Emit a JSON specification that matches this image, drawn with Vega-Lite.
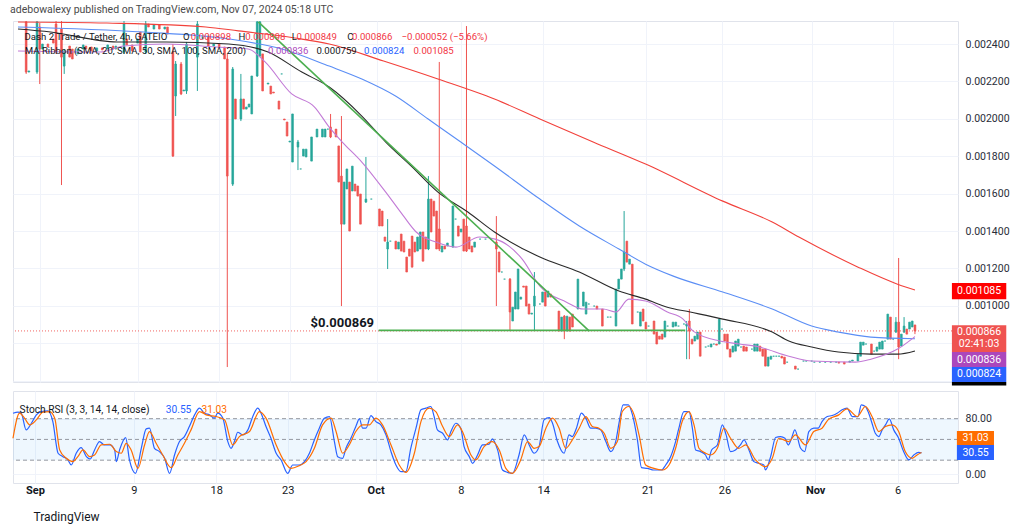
{
"$schema": "https://vega.github.io/schema/vega-lite/v6.json",
"background": "white",
"padding": {"left": 10, "top": 5, "right": 5, "bottom": 5},
"title": {"text": "adebowalexy published on TradingView.com, Nov 07, 2024 05:18 UTC", "anchor": "start", "font": "Roboto", "fontSize": 10.5, "fontWeight": "normal", "color": "#4a4a4a", "offset": 5},
"spacing": 3,
"resolve": {"scale": {"color": "independent"}},
"datasets": {
"candles": [
{"bar":3,"o":0.002518,"c":0.00225,"h":0.002523,"l":0.00224},
{"bar":4,"o":0.00225,"c":0.002256},
{"bar":7,"o":0.00225,"c":0.002518,"h":0.002523,"l":0.00224},
{"bar":8,"o":0.002491,"c":0.002373,"h":0.002512,"l":0.002186},
{"bar":9,"o":0.002373,"c":0.0024},
{"bar":11,"o":0.0024,"c":0.002384},
{"bar":13,"o":0.002427,"c":0.002405},
{"bar":14,"o":0.002507,"c":0.002363,"h":0.002523,"l":0.002347},
{"bar":16,"o":0.00248,"c":0.00233,"h":0.002523,"l":0.001646},
{"bar":17,"o":0.002282,"c":0.002363,"h":0.002373,"l":0.00224},
{"bar":19,"o":0.002389,"c":0.00233},
{"bar":20,"o":0.002373,"c":0.00232},
{"bar":22,"o":0.002347,"c":0.002373},
{"bar":24,"o":0.002373,"c":0.002395},
{"bar":25,"o":0.002389,"c":0.002373},
{"bar":27,"o":0.002384,"c":0.002363},
{"bar":29,"o":0.002363,"c":0.002379},
{"bar":31,"o":0.002379,"c":0.002368},
{"bar":33,"o":0.002373,"c":0.002395},
{"bar":35,"o":0.002389,"c":0.002373},
{"bar":36,"o":0.002373,"c":0.002389},
{"bar":39,"o":0.002357,"c":0.002507,"h":0.002523,"l":0.002347},
{"bar":40,"o":0.002427,"c":0.002395},
{"bar":42,"o":0.002395,"c":0.002363},
{"bar":44,"o":0.002405,"c":0.002427},
{"bar":45,"o":0.002464,"c":0.002357},
{"bar":47,"o":0.002357,"c":0.002507,"h":0.002523,"l":0.002347},
{"bar":48,"o":0.002507,"c":0.002491},
{"bar":50,"o":0.00248,"c":0.002502},
{"bar":52,"o":0.002502,"c":0.00248},
{"bar":54,"o":0.00248,"c":0.002491},
{"bar":55,"o":0.002491,"c":0.002453},
{"bar":57,"o":0.002357,"c":0.001801,"h":0.0024,"l":0.001796},
{"bar":58,"o":0.002122,"c":0.002293,"h":0.002309,"l":0.002015},
{"bar":60,"o":0.002293,"c":0.002133,"h":0.002304,"l":0.002127},
{"bar":61,"o":0.002149,"c":0.002154},
{"bar":62,"o":0.002149,"c":0.0024,"h":0.002411,"l":0.002133},
{"bar":64,"o":0.002373,"c":0.002373},
{"bar":66,"o":0.00233,"c":0.002507,"h":0.002523,"l":0.002149},
{"bar":68,"o":0.002427,"c":0.002437},
{"bar":70,"o":0.002443,"c":0.002389},
{"bar":72,"o":0.002389,"c":0.0024},
{"bar":74,"o":0.0024,"c":0.002384},
{"bar":76,"o":0.002384,"c":0.00232},
{"bar":77,"o":0.00232,"c":0.001694,"h":0.002347,"l":0.000673},
{"bar":79,"o":0.001651,"c":0.002266,"h":0.002277,"l":0.001641},
{"bar":80,"o":0.002106,"c":0.001999},
{"bar":82,"o":0.001999,"c":0.002106,"h":0.00224,"l":0.001988},
{"bar":83,"o":0.002106,"c":0.002052},
{"bar":84,"o":0.002052,"c":0.002063},
{"bar":85,"o":0.002063,"c":0.002079},
{"bar":86,"o":0.002026,"c":0.002229},
{"bar":88,"o":0.002229,"c":0.002518,"h":0.002523,"l":0.002224},
{"bar":89,"o":0.002336,"c":0.002518,"h":0.002523,"l":0.00233},
{"bar":90,"o":0.002347,"c":0.002149},
{"bar":92,"o":0.002186,"c":0.002191},
{"bar":93,"o":0.002175,"c":0.002133},
{"bar":94,"o":0.002143,"c":0.002138},
{"bar":96,"o":0.002095,"c":0.002052},
{"bar":97,"o":0.00224,"c":0.00224},
{"bar":98,"o":0.001999,"c":0.001994},
{"bar":99,"o":0.001983,"c":0.001908},
{"bar":100,"o":0.001876,"c":0.001881},
{"bar":101,"o":0.001769,"c":0.002026},
{"bar":103,"o":0.001849,"c":0.001876,"h":0.001887,"l":0.001726},
{"bar":104,"o":0.001732,"c":0.001732},
{"bar":105,"o":0.001801,"c":0.001838},
{"bar":106,"o":0.001796,"c":0.001838},
{"bar":108,"o":0.001774,"c":0.001903},
{"bar":110,"o":0.001903,"c":0.001945},
{"bar":112,"o":0.001903,"c":0.001945},
{"bar":113,"o":0.001903,"c":0.001945},
{"bar":114,"o":0.001945,"c":0.001945},
{"bar":115,"o":0.001956,"c":0.001903,"h":0.002026,"l":0.001897},
{"bar":117,"o":0.001945,"c":0.001903},
{"bar":118,"o":0.001855,"c":0.001662},
{"bar":119,"o":0.001694,"c":0.001437,"h":0.002015,"l":0.000999},
{"bar":120,"o":0.001437,"c":0.001662},
{"bar":121,"o":0.001625,"c":0.001732},
{"bar":122,"o":0.001662,"c":0.0014},
{"bar":123,"o":0.001614,"c":0.001747},
{"bar":124,"o":0.001651,"c":0.001614},
{"bar":125,"o":0.001641,"c":0.001587},
{"bar":126,"o":0.001598,"c":0.001437},
{"bar":128,"o":0.001555,"c":0.001571,"h":0.001796,"l":0.00155},
{"bar":130,"o":0.001571,"c":0.001571},
{"bar":133,"o":0.001518,"c":0.001427},
{"bar":134,"o":0.001507,"c":0.001427},
{"bar":135,"o":0.001368,"c":0.001346},
{"bar":136,"o":0.001304,"c":0.001341,"h":0.001464,"l":0.001197},
{"bar":137,"o":0.001346,"c":0.001346},
{"bar":139,"o":0.001346,"c":0.001304},
{"bar":140,"o":0.001304,"c":0.001341},
{"bar":141,"o":0.001384,"c":0.001293},
{"bar":142,"o":0.001346,"c":0.001288},
{"bar":143,"o":0.001261,"c":0.001181},
{"bar":144,"o":0.001304,"c":0.001266},
{"bar":145,"o":0.001373,"c":0.001207},
{"bar":146,"o":0.001341,"c":0.001288},
{"bar":147,"o":0.001293,"c":0.001368},
{"bar":148,"o":0.001304,"c":0.001395},
{"bar":149,"o":0.001395,"c":0.001239},
{"bar":150,"o":0.001368,"c":0.001304},
{"bar":151,"o":0.001304,"c":0.001571,"h":0.001694,"l":0.001298},
{"bar":152,"o":0.001571,"c":0.001395},
{"bar":153,"o":0.00156,"c":0.00148},
{"bar":154,"o":0.001507,"c":0.001304},
{"bar":155,"o":0.001411,"c":0.001304,"h":0.002304,"l":0.001293},
{"bar":156,"o":0.001288,"c":0.00132},
{"bar":157,"o":0.00132,"c":0.001304},
{"bar":158,"o":0.00132,"c":0.001336},
{"bar":160,"o":0.001314,"c":0.001534},
{"bar":161,"o":0.001464,"c":0.001464},
{"bar":162,"o":0.001427,"c":0.001373},
{"bar":163,"o":0.001395,"c":0.001411},
{"bar":164,"o":0.001464,"c":0.001293},
{"bar":165,"o":0.001427,"c":0.001293,"h":0.002496,"l":0.001288},
{"bar":166,"o":0.001368,"c":0.001304},
{"bar":167,"o":0.00132,"c":0.001288},
{"bar":168,"o":0.001314,"c":0.001341},
{"bar":170,"o":0.001357,"c":0.001357},
{"bar":172,"o":0.001357,"c":0.001357},
{"bar":174,"o":0.001357,"c":0.001357},
{"bar":176,"o":0.001341,"c":0.001304,"h":0.00148,"l":0.000999},
{"bar":177,"o":0.001288,"c":0.001181},
{"bar":178,"o":0.001181,"c":0.001181},
{"bar":179,"o":0.001143,"c":0.001143},
{"bar":181,"o":0.001143,"c":0.000967,"h":0.001149,"l":0.000865},
{"bar":182,"o":0.000919,"c":0.000993},
{"bar":183,"o":0.000983,"c":0.001074},
{"bar":184,"o":0.000983,"c":0.001197},
{"bar":185,"o":0.001036,"c":0.001047},
{"bar":186,"o":0.001106,"c":0.0011},
{"bar":187,"o":0.001106,"c":0.000999},
{"bar":188,"o":0.00101,"c":0.000956},
{"bar":189,"o":0.000956,"c":0.000961},
{"bar":190,"o":0.000999,"c":0.001052,"h":0.001181,"l":0.000865},
{"bar":192,"o":0.00101,"c":0.00101},
{"bar":193,"o":0.00102,"c":0.001074},
{"bar":194,"o":0.001074,"c":0.000999},
{"bar":195,"o":0.001047,"c":0.001079},
{"bar":196,"o":0.001063,"c":0.001047},
{"bar":199,"o":0.000972,"c":0.000865},
{"bar":200,"o":0.000865,"c":0.00094},
{"bar":201,"o":0.000945,"c":0.000865,"h":0.000951,"l":0.000822},
{"bar":202,"o":0.000865,"c":0.000945},
{"bar":203,"o":0.00094,"c":0.000865},
{"bar":204,"o":0.000956,"c":0.000887},
{"bar":206,"o":0.000983,"c":0.001143},
{"bar":208,"o":0.000999,"c":0.001074},
{"bar":209,"o":0.000956,"c":0.00102},
{"bar":210,"o":0.00101,"c":0.00101},
{"bar":212,"o":0.000999,"c":0.000999},
{"bar":213,"o":0.000999,"c":0.000983},
{"bar":215,"o":0.000983,"c":0.000892},
{"bar":217,"o":0.00094,"c":0.00094},
{"bar":218,"o":0.00094,"c":0.00094},
{"bar":220,"o":0.000892,"c":0.00109},
{"bar":221,"o":0.00109,"c":0.001143},
{"bar":222,"o":0.001143,"c":0.001197},
{"bar":223,"o":0.001197,"c":0.001288,"h":0.001507,"l":0.001186},
{"bar":224,"o":0.001346,"c":0.001234},
{"bar":225,"o":0.001223,"c":0.00125},
{"bar":226,"o":0.001223,"c":0.000903},
{"bar":228,"o":0.000967,"c":0.000967},
{"bar":229,"o":0.000892,"c":0.000967},
{"bar":230,"o":0.000983,"c":0.000919},
{"bar":231,"o":0.000913,"c":0.000876},
{"bar":232,"o":0.000892,"c":0.000892},
{"bar":234,"o":0.000919,"c":0.000849},
{"bar":235,"o":0.00086,"c":0.000796},
{"bar":236,"o":0.000838,"c":0.000822},
{"bar":237,"o":0.000849,"c":0.000822},
{"bar":238,"o":0.000833,"c":0.000919},
{"bar":239,"o":0.000892,"c":0.000892},
{"bar":241,"o":0.000887,"c":0.000913},
{"bar":242,"o":0.000892,"c":0.000913},
{"bar":243,"o":0.000892,"c":0.000892},
{"bar":245,"o":0.000903,"c":0.000903},
{"bar":246,"o":0.000892,"c":0.000903,"h":0.000919,"l":0.000715},
{"bar":247,"o":0.000919,"c":0.000865,"h":0.000983,"l":0.000715},
{"bar":248,"o":0.000822,"c":0.000796},
{"bar":249,"o":0.000812,"c":0.000838},
{"bar":250,"o":0.000822,"c":0.00086},
{"bar":251,"o":0.00086,"c":0.000731},
{"bar":253,"o":0.00078,"c":0.00078},
{"bar":254,"o":0.000785,"c":0.000785},
{"bar":255,"o":0.00078,"c":0.000796},
{"bar":256,"o":0.000796,"c":0.000796},
{"bar":257,"o":0.000796,"c":0.00079},
{"bar":258,"o":0.000796,"c":0.000929},
{"bar":259,"o":0.000876,"c":0.000876},
{"bar":260,"o":0.000849,"c":0.000812},
{"bar":261,"o":0.000849,"c":0.000769},
{"bar":262,"o":0.000769,"c":0.000726},
{"bar":263,"o":0.000753,"c":0.000785},
{"bar":264,"o":0.000758,"c":0.000812},
{"bar":265,"o":0.000785,"c":0.000822},
{"bar":266,"o":0.00078,"c":0.00078},
{"bar":267,"o":0.000785,"c":0.000758},
{"bar":268,"o":0.00078,"c":0.000758},
{"bar":270,"o":0.000769,"c":0.000769},
{"bar":271,"o":0.000758,"c":0.000796},
{"bar":272,"o":0.000758,"c":0.000796},
{"bar":273,"o":0.000785,"c":0.000758},
{"bar":274,"o":0.000769,"c":0.000731},
{"bar":275,"o":0.000769,"c":0.000678},
{"bar":276,"o":0.000678,"c":0.000726},
{"bar":277,"o":0.000715,"c":0.000731},
{"bar":278,"o":0.000731,"c":0.000731},
{"bar":279,"o":0.000731,"c":0.000731},
{"bar":280,"o":0.000731,"c":0.000731},
{"bar":281,"o":0.000731,"c":0.000721},
{"bar":282,"o":0.000726,"c":0.000689},
{"bar":283,"o":0.000699,"c":0.000699},
{"bar":286,"o":0.000678,"c":0.000662},
{"bar":287,"o":0.000662,"c":0.000662},
{"bar":289,"o":0.000705,"c":0.000705},
{"bar":290,"o":0.000705,"c":0.000705},
{"bar":292,"o":0.000705,"c":0.000705},
{"bar":293,"o":0.000699,"c":0.000699},
{"bar":295,"o":0.000699,"c":0.000699},
{"bar":297,"o":0.000699,"c":0.000699},
{"bar":299,"o":0.000699,"c":0.000699},
{"bar":301,"o":0.000699,"c":0.000699},
{"bar":302,"o":0.000699,"c":0.000694},
{"bar":304,"o":0.000699,"c":0.000689},
{"bar":306,"o":0.000699,"c":0.000705},
{"bar":307,"o":0.000705,"c":0.00071},
{"bar":309,"o":0.000705,"c":0.000742},
{"bar":310,"o":0.000731,"c":0.000806},
{"bar":311,"o":0.00079,"c":0.000806},
{"bar":312,"o":0.000796,"c":0.000796},
{"bar":314,"o":0.000796,"c":0.000742},
{"bar":315,"o":0.000758,"c":0.000758},
{"bar":316,"o":0.000758,"c":0.00078},
{"bar":317,"o":0.000769,"c":0.000806},
{"bar":318,"o":0.000769,"c":0.000812},
{"bar":319,"o":0.000812,"c":0.000812},
{"bar":320,"o":0.000822,"c":0.000956},
{"bar":321,"o":0.00094,"c":0.000822},
{"bar":322,"o":0.000822,"c":0.000822},
{"bar":323,"o":0.00086,"c":0.000913,"h":0.00094,"l":0.000855},
{"bar":324,"o":0.000913,"c":0.00078,"h":0.001256,"l":0.000715},
{"bar":325,"o":0.000785,"c":0.000849},
{"bar":326,"o":0.00086,"c":0.000892,"h":0.00094,"l":0.000855},
{"bar":327,"o":0.000876,"c":0.000849},
{"bar":328,"o":0.000876,"c":0.000913},
{"bar":329,"o":0.000887,"c":0.000919},
{"bar":330,"o":0.000898,"c":0.000866,"h":0.000898,"l":0.000849}
],
"ma": [
{"s":"s200","bar":0,"p":0.002518},{"s":"s200","bar":32.7,"p":0.002512},{"s":"s200","bar":69.1,"p":0.002491},{"s":"s200","bar":81.1,"p":0.00247},{"s":"s200","bar":101.8,"p":0.002432},{"s":"s200","bar":114.5,"p":0.0024},{"s":"s200","bar":134.5,"p":0.002309},{"s":"s200","bar":154.5,"p":0.002213},{"s":"s200","bar":175.3,"p":0.002106},{"s":"s200","bar":192,"p":0.001999},{"s":"s200","bar":211.6,"p":0.001876},{"s":"s200","bar":230.9,"p":0.001758},{"s":"s200","bar":259.3,"p":0.00156},{"s":"s200","bar":277.5,"p":0.001448},{"s":"s200","bar":287.3,"p":0.001368},{"s":"s200","bar":309.1,"p":0.001207},{"s":"s200","bar":323.6,"p":0.001116},{"s":"s200","bar":330,"p":0.001085},
{"s":"s100","bar":0,"p":0.002491},{"s":"s100","bar":46.2,"p":0.002464},{"s":"s100","bar":77.5,"p":0.002427},{"s":"s100","bar":97.1,"p":0.002373},{"s":"s100","bar":114.5,"p":0.002282},{"s":"s100","bar":126.5,"p":0.002213},{"s":"s100","bar":138.9,"p":0.002122},{"s":"s100","bar":150.9,"p":0.001999},{"s":"s100","bar":162.9,"p":0.001876},{"s":"s100","bar":175.3,"p":0.001748},{"s":"s100","bar":192,"p":0.001571},{"s":"s100","bar":206.5,"p":0.001427},{"s":"s100","bar":221.1,"p":0.001304},{"s":"s100","bar":230.9,"p":0.001223},{"s":"s100","bar":241.1,"p":0.001159},{"s":"s100","bar":259.3,"p":0.001074},{"s":"s100","bar":277.5,"p":0.000983},{"s":"s100","bar":292,"p":0.000892},{"s":"s100","bar":301.8,"p":0.00086},{"s":"s100","bar":313.8,"p":0.000833},{"s":"s100","bar":330,"p":0.000824},
{"s":"s50","bar":0,"p":0.00248},{"s":"s50","bar":12,"p":0.002464},{"s":"s50","bar":36.4,"p":0.002411},{"s":"s50","bar":54.5,"p":0.002411},{"s":"s50","bar":77.5,"p":0.0024},{"s":"s50","bar":92,"p":0.002357},{"s":"s50","bar":104.4,"p":0.00225},{"s":"s50","bar":114.5,"p":0.00217},{"s":"s50","bar":126.5,"p":0.002015},{"s":"s50","bar":135.3,"p":0.001876},{"s":"s50","bar":144.7,"p":0.001747},{"s":"s50","bar":154.5,"p":0.001608},{"s":"s50","bar":165.5,"p":0.001502},{"s":"s50","bar":175.3,"p":0.001395},{"s":"s50","bar":192,"p":0.001261},{"s":"s50","bar":206.5,"p":0.001181},{"s":"s50","bar":221.1,"p":0.001079},{"s":"s50","bar":230.9,"p":0.001036},{"s":"s50","bar":238.9,"p":0.000993},{"s":"s50","bar":247.3,"p":0.000967},{"s":"s50","bar":259.3,"p":0.000929},{"s":"s50","bar":277.5,"p":0.00086},{"s":"s50","bar":283.6,"p":0.000812},{"s":"s50","bar":292,"p":0.00078},{"s":"s50","bar":301.8,"p":0.000753},{"s":"s50","bar":313.8,"p":0.000742},{"s":"s50","bar":323.6,"p":0.000742},{"s":"s50","bar":330,"p":0.000759},
{"s":"s20","bar":0,"p":0.002363},{"s":"s20","bar":30.2,"p":0.002357},{"s":"s20","bar":38.9,"p":0.002389},{"s":"s20","bar":54.5,"p":0.0024},{"s":"s20","bar":72.7,"p":0.002384},{"s":"s20","bar":84.7,"p":0.002373},{"s":"s20","bar":90.9,"p":0.002304},{"s":"s20","bar":100.7,"p":0.002133},{"s":"s20","bar":109.1,"p":0.002063},{"s":"s20","bar":114.5,"p":0.001956},{"s":"s20","bar":119.3,"p":0.001876},{"s":"s20","bar":126.5,"p":0.001769},{"s":"s20","bar":135.3,"p":0.001608},{"s":"s20","bar":141.8,"p":0.001481},{"s":"s20","bar":146.5,"p":0.001395},{"s":"s20","bar":153.8,"p":0.001341},{"s":"s20","bar":161.1,"p":0.001314},{"s":"s20","bar":169.8,"p":0.001368},{"s":"s20","bar":175.6,"p":0.001357},{"s":"s20","bar":185.5,"p":0.00125},{"s":"s20","bar":192,"p":0.001106},{"s":"s20","bar":201.8,"p":0.00102},{"s":"s20","bar":208,"p":0.000983},{"s":"s20","bar":215.3,"p":0.000983},{"s":"s20","bar":220,"p":0.000967},{"s":"s20","bar":224.7,"p":0.001036},{"s":"s20","bar":230.9,"p":0.001026},{"s":"s20","bar":238.9,"p":0.000967},{"s":"s20","bar":244.7,"p":0.000929},{"s":"s20","bar":248.4,"p":0.000865},{"s":"s20","bar":258.2,"p":0.000812},{"s":"s20","bar":265.5,"p":0.000796},{"s":"s20","bar":272.7,"p":0.00078},{"s":"s20","bar":283.6,"p":0.000731},{"s":"s20","bar":292,"p":0.000705},{"s":"s20","bar":308,"p":0.000699},{"s":"s20","bar":313.8,"p":0.000715},{"s":"s20","bar":323.6,"p":0.000769},{"s":"s20","bar":330,"p":0.000836}
],
"trend": [
{"seg":"diag","bar":88.4,"p":0.002518},{"seg":"diag","bar":210.2,"p":0.000865},
{"seg":"flat","bar":132.7,"p":0.000869},{"seg":"flat","bar":245.5,"p":0.000869}
],
"stoch": [
{"s":"K","bar":0,"v":87.9},{"s":"K","bar":1.8,"v":89.4},{"s":"K","bar":3,"v":87.9},{"s":"K","bar":4.8,"v":63.8},{"s":"K","bar":6.7,"v":73.4},{"s":"K","bar":8.5,"v":85.5},{"s":"K","bar":10.3,"v":90.3},{"s":"K","bar":12.7,"v":91.3},{"s":"K","bar":14.5,"v":75.8},{"s":"K","bar":16.4,"v":30},{"s":"K","bar":18.2,"v":25.1},{"s":"K","bar":20,"v":20.3},{"s":"K","bar":21.2,"v":13},{"s":"K","bar":23,"v":30},{"s":"K","bar":24.8,"v":38.2},{"s":"K","bar":26.7,"v":25.1},{"s":"K","bar":28.1,"v":21.7},{"s":"K","bar":29.7,"v":34.8},{"s":"K","bar":31.5,"v":46.9},{"s":"K","bar":33.3,"v":42},{"s":"K","bar":35.2,"v":42},{"s":"K","bar":37,"v":34.8},{"s":"K","bar":37.6,"v":17.9},{"s":"K","bar":38.8,"v":34.8},{"s":"K","bar":41,"v":52.7},{"s":"K","bar":42.4,"v":20.3},{"s":"K","bar":44.6,"v":1},{"s":"K","bar":46.7,"v":37.2},{"s":"K","bar":48.5,"v":65.2},{"s":"K","bar":49.7,"v":66.2},{"s":"K","bar":51.5,"v":37.2},{"s":"K","bar":53.3,"v":32.4},{"s":"K","bar":55.2,"v":22.7},{"s":"K","bar":57,"v":1},{"s":"K","bar":58.8,"v":27.5},{"s":"K","bar":60.6,"v":46.9},{"s":"K","bar":62.4,"v":54.1},{"s":"K","bar":64.2,"v":68.6},{"s":"K","bar":66.1,"v":85.5},{"s":"K","bar":67.9,"v":95.2},{"s":"K","bar":69.7,"v":87.9},{"s":"K","bar":71.5,"v":85.5},{"s":"K","bar":73.3,"v":80.7},{"s":"K","bar":74.5,"v":87.9},{"s":"K","bar":76.4,"v":80.7},{"s":"K","bar":78.2,"v":46.9},{"s":"K","bar":79.4,"v":37.2},{"s":"K","bar":80.6,"v":46.9},{"s":"K","bar":81.8,"v":60.4},{"s":"K","bar":83.6,"v":56.5},{"s":"K","bar":85.5,"v":63.8},{"s":"K","bar":87.3,"v":83.1},{"s":"K","bar":89.1,"v":95.2},{"s":"K","bar":90.3,"v":87.9},{"s":"K","bar":92.1,"v":68.6},{"s":"K","bar":93.9,"v":51.7},{"s":"K","bar":95.8,"v":30},{"s":"K","bar":97.6,"v":20.3},{"s":"K","bar":100,"v":1},{"s":"K","bar":101.8,"v":13},{"s":"K","bar":104.2,"v":13},{"s":"K","bar":106.1,"v":17.9},{"s":"K","bar":107.9,"v":30},{"s":"K","bar":109.7,"v":49.3},{"s":"K","bar":111.5,"v":66.2},{"s":"K","bar":113.3,"v":80.7},{"s":"K","bar":115.2,"v":83.1},{"s":"K","bar":117,"v":46.9},{"s":"K","bar":118.2,"v":25.1},{"s":"K","bar":120,"v":22.7},{"s":"K","bar":121.2,"v":37.2},{"s":"K","bar":123,"v":51.7},{"s":"K","bar":124.8,"v":68.6},{"s":"K","bar":126.1,"v":79.7},{"s":"K","bar":127.3,"v":66.2},{"s":"K","bar":128.5,"v":66.2},{"s":"K","bar":130.3,"v":84.5},{"s":"K","bar":132.1,"v":75.8},{"s":"K","bar":133.9,"v":71},{"s":"K","bar":135.8,"v":56.5},{"s":"K","bar":137.6,"v":32.4},{"s":"K","bar":139.4,"v":13},{"s":"K","bar":141.2,"v":3.4},{"s":"K","bar":143,"v":3.4},{"s":"K","bar":144.8,"v":37.2},{"s":"K","bar":146.7,"v":66.2},{"s":"K","bar":148.5,"v":92.8},{"s":"K","bar":150.3,"v":95.2},{"s":"K","bar":152.1,"v":97.6},{"s":"K","bar":153.3,"v":83.1},{"s":"K","bar":154.5,"v":63.8},{"s":"K","bar":156.4,"v":58.9},{"s":"K","bar":158.2,"v":49.3},{"s":"K","bar":159.4,"v":61.4},{"s":"K","bar":161.2,"v":73.4},{"s":"K","bar":163,"v":66.2},{"s":"K","bar":164.2,"v":39.6},{"s":"K","bar":166.1,"v":25.1},{"s":"K","bar":167.3,"v":15.5},{"s":"K","bar":169.1,"v":27.5},{"s":"K","bar":170.9,"v":42},{"s":"K","bar":173.3,"v":43},{"s":"K","bar":174.5,"v":50.7},{"s":"K","bar":176.4,"v":34.8},{"s":"K","bar":178.2,"v":5.8},{"s":"K","bar":180,"v":2.4},{"s":"K","bar":181.8,"v":1},{"s":"K","bar":184.2,"v":27.5},{"s":"K","bar":186.1,"v":56.5},{"s":"K","bar":187.9,"v":42},{"s":"K","bar":189.7,"v":30},{"s":"K","bar":191.5,"v":39.6},{"s":"K","bar":193.3,"v":78.3},{"s":"K","bar":195.2,"v":81.6},{"s":"K","bar":196.4,"v":73.4},{"s":"K","bar":198.2,"v":46.9},{"s":"K","bar":200.6,"v":30},{"s":"K","bar":202.4,"v":56.5},{"s":"K","bar":203.6,"v":54.1},{"s":"K","bar":205.1,"v":66.2},{"s":"K","bar":206.9,"v":87.9},{"s":"K","bar":208.5,"v":80.7},{"s":"K","bar":210.3,"v":66.2},{"s":"K","bar":212.1,"v":66.2},{"s":"K","bar":213.9,"v":63.8},{"s":"K","bar":215.8,"v":46.9},{"s":"K","bar":217.6,"v":32.4},{"s":"K","bar":219.4,"v":46.9},{"s":"K","bar":220.6,"v":73.4},{"s":"K","bar":222.1,"v":100},{"s":"K","bar":224,"v":100},{"s":"K","bar":225.5,"v":85.5},{"s":"K","bar":227.3,"v":49.3},{"s":"K","bar":228.8,"v":9.2},{"s":"K","bar":230.9,"v":8.2},{"s":"K","bar":233.3,"v":5.8},{"s":"K","bar":236.1,"v":5.8},{"s":"K","bar":237.6,"v":13},{"s":"K","bar":239.4,"v":25.1},{"s":"K","bar":241.2,"v":46.9},{"s":"K","bar":242.4,"v":66.2},{"s":"K","bar":244.2,"v":90.3},{"s":"K","bar":246.1,"v":90.3},{"s":"K","bar":247.3,"v":66.2},{"s":"K","bar":248.5,"v":34.8},{"s":"K","bar":250.3,"v":32.4},{"s":"K","bar":252.1,"v":27.5},{"s":"K","bar":253.1,"v":20.3},{"s":"K","bar":254.3,"v":34.8},{"s":"K","bar":256.4,"v":42},{"s":"K","bar":258.2,"v":71},{"s":"K","bar":259.6,"v":56.5},{"s":"K","bar":261.2,"v":32.4},{"s":"K","bar":263,"v":34.8},{"s":"K","bar":264.8,"v":42},{"s":"K","bar":266.1,"v":49.3},{"s":"K","bar":267.9,"v":34.8},{"s":"K","bar":269.7,"v":17.9},{"s":"K","bar":271.5,"v":15.5},{"s":"K","bar":273.3,"v":13},{"s":"K","bar":273.9,"v":5.8},{"s":"K","bar":275.8,"v":25.1},{"s":"K","bar":277.6,"v":52.7},{"s":"K","bar":279.4,"v":54.1},{"s":"K","bar":281,"v":51.7},{"s":"K","bar":282.2,"v":42},{"s":"K","bar":283.4,"v":51.7},{"s":"K","bar":284.6,"v":63.8},{"s":"K","bar":286.7,"v":37.2},{"s":"K","bar":288.2,"v":32.4},{"s":"K","bar":289.7,"v":61.4},{"s":"K","bar":291.5,"v":66.2},{"s":"K","bar":293.1,"v":66.2},{"s":"K","bar":294.5,"v":75.8},{"s":"K","bar":296.4,"v":83.1},{"s":"K","bar":298.2,"v":84.5},{"s":"K","bar":300,"v":87.9},{"s":"K","bar":301.8,"v":92.8},{"s":"K","bar":303.6,"v":95.2},{"s":"K","bar":305.5,"v":83.1},{"s":"K","bar":307.6,"v":83.1},{"s":"K","bar":308.8,"v":100},{"s":"K","bar":310.3,"v":97.6},{"s":"K","bar":311.5,"v":87.9},{"s":"K","bar":312.7,"v":73.4},{"s":"K","bar":313.9,"v":58.9},{"s":"K","bar":315.2,"v":54.1},{"s":"K","bar":316.4,"v":63.8},{"s":"K","bar":317.6,"v":71},{"s":"K","bar":319,"v":79.7},{"s":"K","bar":320.6,"v":63.8},{"s":"K","bar":322.4,"v":51.7},{"s":"K","bar":324.2,"v":32.4},{"s":"K","bar":326.1,"v":20.3},{"s":"K","bar":327.9,"v":27.5},{"s":"K","bar":329.7,"v":31.4},{"s":"K","bar":330.7,"v":30.55},
{"s":"D","bar":0,"v":51.7},{"s":"D","bar":2.4,"v":87.9},{"s":"D","bar":4.2,"v":80.7},{"s":"D","bar":6.1,"v":71},{"s":"D","bar":8.5,"v":78.3},{"s":"D","bar":10.9,"v":89.4},{"s":"D","bar":13.3,"v":90.3},{"s":"D","bar":15.2,"v":80.7},{"s":"D","bar":17,"v":34.8},{"s":"D","bar":19.4,"v":22.7},{"s":"D","bar":21.8,"v":17.9},{"s":"D","bar":23.6,"v":25.1},{"s":"D","bar":25.5,"v":34.8},{"s":"D","bar":27.9,"v":25.1},{"s":"D","bar":29.7,"v":27.5},{"s":"D","bar":32.1,"v":42},{"s":"D","bar":35.2,"v":43},{"s":"D","bar":37.6,"v":32.4},{"s":"D","bar":39.4,"v":30},{"s":"D","bar":41.2,"v":44.4},{"s":"D","bar":43,"v":34.8},{"s":"D","bar":45.5,"v":8.2},{"s":"D","bar":47.9,"v":42},{"s":"D","bar":49.7,"v":61.4},{"s":"D","bar":52.1,"v":44.4},{"s":"D","bar":54.5,"v":27.5},{"s":"D","bar":57.6,"v":9.2},{"s":"D","bar":60,"v":27.5},{"s":"D","bar":62.4,"v":44.4},{"s":"D","bar":64.8,"v":63.8},{"s":"D","bar":67.9,"v":90.3},{"s":"D","bar":70.3,"v":85.5},{"s":"D","bar":73.9,"v":83.1},{"s":"D","bar":77,"v":78.3},{"s":"D","bar":80,"v":42},{"s":"D","bar":82.4,"v":54.1},{"s":"D","bar":86.1,"v":61.4},{"s":"D","bar":89.7,"v":90.3},{"s":"D","bar":92.1,"v":80.7},{"s":"D","bar":95.8,"v":42},{"s":"D","bar":98.8,"v":17.9},{"s":"D","bar":101.2,"v":8.2},{"s":"D","bar":104.2,"v":12.1},{"s":"D","bar":106.7,"v":17.9},{"s":"D","bar":109.7,"v":37.2},{"s":"D","bar":112.7,"v":71},{"s":"D","bar":115.8,"v":80.7},{"s":"D","bar":117.6,"v":61.4},{"s":"D","bar":120,"v":30},{"s":"D","bar":122.4,"v":42},{"s":"D","bar":124.8,"v":61.4},{"s":"D","bar":127.3,"v":71},{"s":"D","bar":129.7,"v":71},{"s":"D","bar":132.1,"v":80.7},{"s":"D","bar":134.5,"v":71},{"s":"D","bar":137.6,"v":42},{"s":"D","bar":140.6,"v":13},{"s":"D","bar":143,"v":2.4},{"s":"D","bar":146.1,"v":30},{"s":"D","bar":148.5,"v":75.8},{"s":"D","bar":151.5,"v":95.2},{"s":"D","bar":153.9,"v":90.3},{"s":"D","bar":156.4,"v":68.6},{"s":"D","bar":158.8,"v":54.1},{"s":"D","bar":161.8,"v":71},{"s":"D","bar":163.6,"v":61.4},{"s":"D","bar":166.7,"v":27.5},{"s":"D","bar":168.5,"v":20.3},{"s":"D","bar":171.5,"v":39.6},{"s":"D","bar":174.5,"v":46.9},{"s":"D","bar":177,"v":34.8},{"s":"D","bar":179.4,"v":8.2},{"s":"D","bar":181.8,"v":1},{"s":"D","bar":184.8,"v":20.3},{"s":"D","bar":187.3,"v":46.9},{"s":"D","bar":189.7,"v":37.2},{"s":"D","bar":191.5,"v":39.6},{"s":"D","bar":194,"v":66.2},{"s":"D","bar":196.4,"v":80.7},{"s":"D","bar":198.8,"v":66.2},{"s":"D","bar":201.2,"v":37.2},{"s":"D","bar":203.6,"v":49.3},{"s":"D","bar":206.1,"v":66.2},{"s":"D","bar":208.5,"v":83.1},{"s":"D","bar":210.9,"v":68.6},{"s":"D","bar":213.3,"v":66.2},{"s":"D","bar":215.2,"v":58.9},{"s":"D","bar":217.6,"v":37.2},{"s":"D","bar":220,"v":46.9},{"s":"D","bar":221.8,"v":90.3},{"s":"D","bar":224.2,"v":97.6},{"s":"D","bar":226.1,"v":85.5},{"s":"D","bar":227.9,"v":56.5},{"s":"D","bar":230.3,"v":13},{"s":"D","bar":233.3,"v":8.2},{"s":"D","bar":236.4,"v":5.8},{"s":"D","bar":238.8,"v":13},{"s":"D","bar":241.2,"v":37.2},{"s":"D","bar":243.6,"v":75.8},{"s":"D","bar":246.1,"v":90.3},{"s":"D","bar":247.9,"v":71},{"s":"D","bar":249.7,"v":37.2},{"s":"D","bar":252.1,"v":30},{"s":"D","bar":253.9,"v":27.5},{"s":"D","bar":256.4,"v":37.2},{"s":"D","bar":258.8,"v":66.2},{"s":"D","bar":261.2,"v":51.7},{"s":"D","bar":264.2,"v":37.2},{"s":"D","bar":266.7,"v":42},{"s":"D","bar":270.3,"v":20.3},{"s":"D","bar":273.9,"v":10.6},{"s":"D","bar":276.4,"v":22.7},{"s":"D","bar":278.8,"v":51.7},{"s":"D","bar":282.4,"v":46.9},{"s":"D","bar":284.8,"v":56.5},{"s":"D","bar":288.5,"v":42},{"s":"D","bar":291.5,"v":61.4},{"s":"D","bar":294.5,"v":66.2},{"s":"D","bar":296.7,"v":78.3},{"s":"D","bar":300.6,"v":85.5},{"s":"D","bar":303.6,"v":94.2},{"s":"D","bar":307.3,"v":83.1},{"s":"D","bar":310.3,"v":97.6},{"s":"D","bar":312.7,"v":83.1},{"s":"D","bar":315.2,"v":61.4},{"s":"D","bar":317.6,"v":68.6},{"s":"D","bar":320,"v":71},{"s":"D","bar":322.4,"v":61.4},{"s":"D","bar":324.8,"v":32.4},{"s":"D","bar":327.3,"v":22.7},{"s":"D","bar":329.1,"v":27.5},{"s":"D","bar":330.7,"v":31.03}
],
"levels": [{"v":80},{"v":50},{"v":20}]
},
"vconcat": [
{
"width": 945, "height": 361,
"layer": [
{"data": {"name": "candles"}, "mark": {"type": "rule", "strokeWidth": 1, "clip": true},
 "encoding": {
  "x": {"field": "bar", "type": "quantitative", "scale": {"domain": [0, 344], "nice": false, "zero": false}, "axis": {"values": [8, 44, 74, 100, 132, 163, 193, 231, 259, 292, 322], "labels": false, "grid": true, "title": null}},
  "y": {"field": "h", "type": "quantitative", "scale": {"domain": [0.000593, 0.002523], "nice": false, "zero": false}, "axis": {"orient": "right", "values": [0.0006, 0.0008, 0.001, 0.0012, 0.0014, 0.0016, 0.0018, 0.002, 0.0022, 0.0024], "labelExpr": "datum.value > 0.00099 ? format(datum.value, '.6f') : ''", "grid": true, "title": null}},
  "y2": {"field": "l"},
  "color": {"condition": {"test": "datum.c >= datum.o", "value": "#26a69a"}, "value": "#ef5350"}}},
{"data": {"name": "candles"}, "mark": {"type": "bar", "size": 1.7, "strokeWidth": 0.7, "clip": true},
 "encoding": {
  "x": {"field": "bar", "type": "quantitative", "scale": {"domain": [0, 344], "nice": false, "zero": false}, "axis": {"values": [8, 44, 74, 100, 132, 163, 193, 231, 259, 292, 322], "labels": false, "grid": true, "title": null}},
  "y": {"field": "o", "type": "quantitative", "scale": {"domain": [0.000593, 0.002523], "nice": false, "zero": false}, "axis": {"orient": "right", "values": [0.0006, 0.0008, 0.001, 0.0012, 0.0014, 0.0016, 0.0018, 0.002, 0.0022, 0.0024], "labelExpr": "datum.value > 0.00099 ? format(datum.value, '.6f') : ''", "grid": true, "title": null}},
  "y2": {"field": "c"},
  "color": {"condition": {"test": "datum.c >= datum.o", "value": "#26a69a"}, "value": "#ef5350"},
  "stroke": {"condition": {"test": "datum.c >= datum.o", "value": "#26a69a"}, "value": "#ef5350"}}},
{"data": {"values": [{"p": 0.000866}]}, "mark": {"type": "rule", "color": "#ef5350", "strokeDash": [1, 2], "strokeWidth": 1, "opacity": 0.9},
 "encoding": {
  "y": {"field": "p", "type": "quantitative", "scale": {"domain": [0.000593, 0.002523], "nice": false, "zero": false}, "axis": {"orient": "right", "values": [0.0006, 0.0008, 0.001, 0.0012, 0.0014, 0.0016, 0.0018, 0.002, 0.0022, 0.0024], "labelExpr": "datum.value > 0.00099 ? format(datum.value, '.6f') : ''", "grid": true, "title": null}}}},
{"data": {"name": "ma"}, "mark": {"type": "line", "strokeWidth": 1.1, "clip": true, "interpolate": "monotone"},
 "encoding": {
  "x": {"field": "bar", "type": "quantitative", "scale": {"domain": [0, 344], "nice": false, "zero": false}, "axis": {"values": [8, 44, 74, 100, 132, 163, 193, 231, 259, 292, 322], "labels": false, "grid": true, "title": null}},
  "y": {"field": "p", "type": "quantitative", "scale": {"domain": [0.000593, 0.002523], "nice": false, "zero": false}, "axis": {"orient": "right", "values": [0.0006, 0.0008, 0.001, 0.0012, 0.0014, 0.0016, 0.0018, 0.002, 0.0022, 0.0024], "labelExpr": "datum.value > 0.00099 ? format(datum.value, '.6f') : ''", "grid": true, "title": null}},
  "color": {"field": "s", "type": "nominal", "scale": {"domain": ["s20", "s50", "s100", "s200"], "range": ["#c27ad6", "#2a2a2a", "#5b8ef5", "#f2413b"]}, "legend": null}}},
{"data": {"name": "trend"}, "mark": {"type": "line", "strokeWidth": 1.6, "color": "#4caf50", "clip": true},
 "encoding": {
  "x": {"field": "bar", "type": "quantitative", "scale": {"domain": [0, 344], "nice": false, "zero": false}, "axis": {"values": [8, 44, 74, 100, 132, 163, 193, 231, 259, 292, 322], "labels": false, "grid": true, "title": null}},
  "y": {"field": "p", "type": "quantitative", "scale": {"domain": [0.000593, 0.002523], "nice": false, "zero": false}, "axis": {"orient": "right", "values": [0.0006, 0.0008, 0.001, 0.0012, 0.0014, 0.0016, 0.0018, 0.002, 0.0022, 0.0024], "labelExpr": "datum.value > 0.00099 ? format(datum.value, '.6f') : ''", "grid": true, "title": null}},
  "detail": {"field": "seg"}}},
{"data": {"values": [
  {"t": "$0.000869", "bar": 131, "p": 0.000869}
 ]}, "mark": {"type": "text", "align": "right", "baseline": "alphabetic", "dy": -3, "font": "Roboto", "fontSize": 13, "fontWeight": "bold", "color": "#131722"},
 "encoding": {
  "x": {"field": "bar", "type": "quantitative", "scale": {"domain": [0, 344], "nice": false, "zero": false}, "axis": {"values": [8, 44, 74, 100, 132, 163, 193, 231, 259, 292, 322], "labels": false, "grid": true, "title": null}},
  "y": {"field": "p", "type": "quantitative", "scale": {"domain": [0.000593, 0.002523], "nice": false, "zero": false}, "axis": {"orient": "right", "values": [0.0006, 0.0008, 0.001, 0.0012, 0.0014, 0.0016, 0.0018, 0.002, 0.0022, 0.0024], "labelExpr": "datum.value > 0.00099 ? format(datum.value, '.6f') : ''", "grid": true, "title": null}},
  "text": {"field": "t"}}},
{"data": {"values": [
  {"t": "Dash 2 Trade / Tether, 4h, GATEIO", "bar": 2.4, "p": 0.00244, "c": "#131722"},
  {"t": "O", "bar": 60.7, "p": 0.00244, "c": "#131722"},
  {"t": "0.000898", "bar": 63.6, "p": 0.00244, "c": "#f23645"},
  {"t": "H", "bar": 81.1, "p": 0.00244, "c": "#131722"},
  {"t": "0.000898", "bar": 83.6, "p": 0.00244, "c": "#f23645"},
  {"t": "L", "bar": 100.7, "p": 0.00244, "c": "#131722"},
  {"t": "0.000849", "bar": 102.5, "p": 0.00244, "c": "#f23645"},
  {"t": "C", "bar": 121.1, "p": 0.00244, "c": "#131722"},
  {"t": "0.000866", "bar": 122.9, "p": 0.00244, "c": "#f23645"},
  {"t": "−0.000052 (−5.66%)", "bar": 141.1, "p": 0.00244, "c": "#f23645"},
  {"t": "MA Ribbon (SMA, 20, SMA, 50, SMA, 100, SMA, 200)", "bar": 2.5, "p": 0.002364, "c": "#131722"},
  {"t": "0.000836", "bar": 92, "p": 0.002364, "c": "#ab47bc"},
  {"t": "0.000759", "bar": 109.8, "p": 0.002364, "c": "#131722"},
  {"t": "0.000824", "bar": 127.3, "p": 0.002364, "c": "#2962ff"},
  {"t": "0.001085", "bar": 145.5, "p": 0.002364, "c": "#f23645"}
 ]}, "mark": {"type": "text", "align": "left", "baseline": "middle", "font": "Roboto", "fontSize": 9.6},
 "encoding": {
  "x": {"field": "bar", "type": "quantitative", "scale": {"domain": [0, 344], "nice": false, "zero": false}, "axis": {"values": [8, 44, 74, 100, 132, 163, 193, 231, 259, 292, 322], "labels": false, "grid": true, "title": null}},
  "y": {"field": "p", "type": "quantitative", "scale": {"domain": [0.000593, 0.002523], "nice": false, "zero": false}, "axis": {"orient": "right", "values": [0.0006, 0.0008, 0.001, 0.0012, 0.0014, 0.0016, 0.0018, 0.002, 0.0022, 0.0024], "labelExpr": "datum.value > 0.00099 ? format(datum.value, '.6f') : ''", "grid": true, "title": null}},
  "text": {"field": "t"},
  "color": {"field": "c", "type": "nominal", "scale": null}}},
{"data": {"values": [
  {"b0": 343.6, "b1": 363.6, "top": 0.001122, "bot": 0.001036, "bg": "#ff0000"},
  {"b0": 343.6, "b1": 363.6, "top": 0.000897, "bot": 0.000753, "bg": "#ef5350"},
  {"b0": 343.6, "b1": 363.6, "top": 0.000753, "bot": 0.000673, "bg": "#ab47bc"},
  {"b0": 343.6, "b1": 363.6, "top": 0.000673, "bot": 0.000593, "bg": "#2962ff"},
  {"b0": 343.6, "b1": 363.6, "top": 0.000593, "bot": 0.000574, "bg": "#000000"}
 ]}, "mark": {"type": "rect"},
 "encoding": {
  "x": {"field": "b0", "type": "quantitative", "scale": {"domain": [0, 344], "nice": false, "zero": false}, "axis": {"values": [8, 44, 74, 100, 132, 163, 193, 231, 259, 292, 322], "labels": false, "grid": true, "title": null}},
  "x2": {"field": "b1"},
  "y": {"field": "top", "type": "quantitative", "scale": {"domain": [0.000593, 0.002523], "nice": false, "zero": false}, "axis": {"orient": "right", "values": [0.0006, 0.0008, 0.001, 0.0012, 0.0014, 0.0016, 0.0018, 0.002, 0.0022, 0.0024], "labelExpr": "datum.value > 0.00099 ? format(datum.value, '.6f') : ''", "grid": true, "title": null}},
  "y2": {"field": "bot"},
  "color": {"field": "bg", "type": "nominal", "scale": null}}},
{"data": {"values": [
  {"t": "0.001085", "bar": 353.6, "p": 0.001079},
  {"t": "0.000866", "bar": 353.6, "p": 0.00086},
  {"t": "02:41:03", "bar": 353.6, "p": 0.000796},
  {"t": "0.000836", "bar": 353.6, "p": 0.00071},
  {"t": "0.000824", "bar": 353.6, "p": 0.000635}
 ]}, "mark": {"type": "text", "baseline": "middle", "font": "Roboto", "fontSize": 10.5, "color": "#ffffff"},
 "encoding": {
  "x": {"field": "bar", "type": "quantitative", "scale": {"domain": [0, 344], "nice": false, "zero": false}, "axis": {"values": [8, 44, 74, 100, 132, 163, 193, 231, 259, 292, 322], "labels": false, "grid": true, "title": null}},
  "y": {"field": "p", "type": "quantitative", "scale": {"domain": [0.000593, 0.002523], "nice": false, "zero": false}, "axis": {"orient": "right", "values": [0.0006, 0.0008, 0.001, 0.0012, 0.0014, 0.0016, 0.0018, 0.002, 0.0022, 0.0024], "labelExpr": "datum.value > 0.00099 ? format(datum.value, '.6f') : ''", "grid": true, "title": null}},
  "text": {"field": "t"}}}
]
},
{
"width": 945, "height": 92,
"layer": [
{"data": {"values": [{"b0": 0, "b1": 344, "lo": 20, "hi": 80}]}, "mark": {"type": "rect", "color": "#2196f3", "opacity": 0.08},
 "encoding": {
  "x": {"field": "b0", "type": "quantitative", "scale": {"domain": [0, 344], "nice": false, "zero": false}, "axis": {"values": [8, 44, 74, 100, 132, 163, 193, 231, 259, 292, 322], "labelExpr": "['Sep','9','18','23','Oct','8','14','21','26','Nov','6'][indexof([8,44,74,100,132,163,193,231,259,292,322], datum.value)]", "labelFontWeight": {"condition": {"test": "datum.value == 8 || datum.value == 132 || datum.value == 292", "value": "bold"}, "value": "normal"}, "labelFlush": false, "grid": true, "labelFontSize": 11, "labelColor": "#131722", "title": "TradingView", "titleFont": "Roboto", "titleFontSize": 12, "titleFontWeight": "normal", "titleColor": "#131722", "titleAnchor": "start", "titleAlign": "left", "titleX": 20, "titlePadding": 16}},
  "x2": {"field": "b1"},
  "y": {"field": "lo", "type": "quantitative", "scale": {"domain": [-13, 120], "nice": false, "zero": false}, "axis": {"orient": "right", "values": [0, 80], "format": ".2f", "grid": true, "title": null}},
  "y2": {"field": "hi"}}},
{"data": {"name": "levels"}, "mark": {"type": "rule", "color": "#9598a1", "strokeDash": [4, 3], "strokeWidth": 1},
 "encoding": {
  "y": {"field": "v", "type": "quantitative", "scale": {"domain": [-13, 120], "nice": false, "zero": false}, "axis": {"orient": "right", "values": [0, 80], "format": ".2f", "grid": true, "title": null}}}},
{"data": {"name": "stoch"}, "mark": {"type": "line", "strokeWidth": 1.2, "interpolate": "monotone"},
 "encoding": {
  "x": {"field": "bar", "type": "quantitative", "scale": {"domain": [0, 344], "nice": false, "zero": false}, "axis": {"values": [8, 44, 74, 100, 132, 163, 193, 231, 259, 292, 322], "labelExpr": "['Sep','9','18','23','Oct','8','14','21','26','Nov','6'][indexof([8,44,74,100,132,163,193,231,259,292,322], datum.value)]", "labelFontWeight": {"condition": {"test": "datum.value == 8 || datum.value == 132 || datum.value == 292", "value": "bold"}, "value": "normal"}, "labelFlush": false, "grid": true, "labelFontSize": 11, "labelColor": "#131722", "title": "TradingView", "titleFont": "Roboto", "titleFontSize": 12, "titleFontWeight": "normal", "titleColor": "#131722", "titleAnchor": "start", "titleAlign": "left", "titleX": 20, "titlePadding": 16}},
  "y": {"field": "v", "type": "quantitative", "scale": {"domain": [-13, 120], "nice": false, "zero": false}, "axis": {"orient": "right", "values": [0, 80], "format": ".2f", "grid": true, "title": null}},
  "color": {"field": "s", "type": "nominal", "scale": {"domain": ["K", "D"], "range": ["#2962ff", "#ff6d00"]}, "legend": null}}},
{"data": {"values": [
  {"t": "Stoch RSI (3, 3, 14, 14, close)", "bar": 2.4, "v": 92.5, "c": "#131722"},
  {"t": "30.55", "bar": 55.6, "v": 92.5, "c": "#2962ff"},
  {"t": "31.03", "bar": 68.6, "v": 92.5, "c": "#ff6d00"}
 ]}, "mark": {"type": "text", "align": "left", "baseline": "middle", "font": "Roboto", "fontSize": 10.2},
 "encoding": {
  "x": {"field": "bar", "type": "quantitative", "scale": {"domain": [0, 344], "nice": false, "zero": false}, "axis": {"values": [8, 44, 74, 100, 132, 163, 193, 231, 259, 292, 322], "labelExpr": "['Sep','9','18','23','Oct','8','14','21','26','Nov','6'][indexof([8,44,74,100,132,163,193,231,259,292,322], datum.value)]", "labelFontWeight": {"condition": {"test": "datum.value == 8 || datum.value == 132 || datum.value == 292", "value": "bold"}, "value": "normal"}, "labelFlush": false, "grid": true, "labelFontSize": 11, "labelColor": "#131722", "title": "TradingView", "titleFont": "Roboto", "titleFontSize": 12, "titleFontWeight": "normal", "titleColor": "#131722", "titleAnchor": "start", "titleAlign": "left", "titleX": 20, "titlePadding": 16}},
  "y": {"field": "v", "type": "quantitative", "scale": {"domain": [-13, 120], "nice": false, "zero": false}, "axis": {"orient": "right", "values": [0, 80], "format": ".2f", "grid": true, "title": null}},
  "text": {"field": "t"},
  "color": {"field": "c", "type": "nominal", "scale": null}}},
{"data": {"values": [
  {"b0": 343.6, "b1": 357.1, "top": 62.3, "bot": 42, "bg": "#ff6d00"},
  {"b0": 343.6, "b1": 357.1, "top": 42, "bot": 20.3, "bg": "#2962ff"}
 ]}, "mark": {"type": "rect"},
 "encoding": {
  "x": {"field": "b0", "type": "quantitative", "scale": {"domain": [0, 344], "nice": false, "zero": false}, "axis": {"values": [8, 44, 74, 100, 132, 163, 193, 231, 259, 292, 322], "labelExpr": "['Sep','9','18','23','Oct','8','14','21','26','Nov','6'][indexof([8,44,74,100,132,163,193,231,259,292,322], datum.value)]", "labelFontWeight": {"condition": {"test": "datum.value == 8 || datum.value == 132 || datum.value == 292", "value": "bold"}, "value": "normal"}, "labelFlush": false, "grid": true, "labelFontSize": 11, "labelColor": "#131722", "title": "TradingView", "titleFont": "Roboto", "titleFontSize": 12, "titleFontWeight": "normal", "titleColor": "#131722", "titleAnchor": "start", "titleAlign": "left", "titleX": 20, "titlePadding": 16}},
  "x2": {"field": "b1"},
  "y": {"field": "top", "type": "quantitative", "scale": {"domain": [-13, 120], "nice": false, "zero": false}, "axis": {"orient": "right", "values": [0, 80], "format": ".2f", "grid": true, "title": null}},
  "y2": {"field": "bot"},
  "color": {"field": "bg", "type": "nominal", "scale": null}}},
{"data": {"values": [
  {"t": "31.03", "mid": 52.2, "bc": 350.4},
  {"t": "30.55", "mid": 30.4, "bc": 350.4}
 ]}, "mark": {"type": "text", "baseline": "middle", "font": "Roboto", "fontSize": 10.5, "color": "#ffffff"},
 "encoding": {
  "x": {"field": "bc", "type": "quantitative", "scale": {"domain": [0, 344], "nice": false, "zero": false}, "axis": {"values": [8, 44, 74, 100, 132, 163, 193, 231, 259, 292, 322], "labelExpr": "['Sep','9','18','23','Oct','8','14','21','26','Nov','6'][indexof([8,44,74,100,132,163,193,231,259,292,322], datum.value)]", "labelFontWeight": {"condition": {"test": "datum.value == 8 || datum.value == 132 || datum.value == 292", "value": "bold"}, "value": "normal"}, "labelFlush": false, "grid": true, "labelFontSize": 11, "labelColor": "#131722", "title": "TradingView", "titleFont": "Roboto", "titleFontSize": 12, "titleFontWeight": "normal", "titleColor": "#131722", "titleAnchor": "start", "titleAlign": "left", "titleX": 20, "titlePadding": 16}},
  "y": {"field": "mid", "type": "quantitative", "scale": {"domain": [-13, 120], "nice": false, "zero": false}, "axis": {"orient": "right", "values": [0, 80], "format": ".2f", "grid": true, "title": null}},
  "text": {"field": "t"}}}
]
}
],
"config": {
 "view": {"stroke": "#e0e3eb", "strokeWidth": 1},
 "font": "Roboto",
 "axis": {"ticks": false, "domain": false, "gridColor": "#f0f3fa", "gridWidth": 1, "labelFont": "Roboto", "labelColor": "#2a2e39", "labelFontSize": 10.5},
 "axisX": {"labelPadding": 1},
 "axisY": {"labelPadding": 7}
}
}
